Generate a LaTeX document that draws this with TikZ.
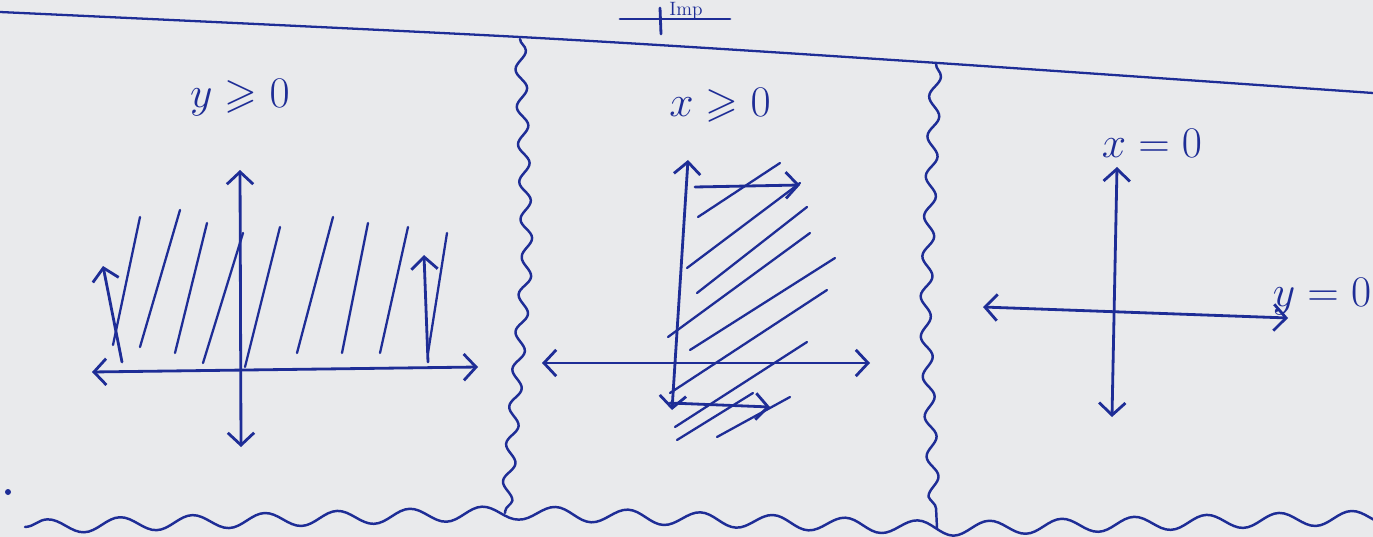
\documentclass[tikz,border=0pt]{standalone}
\usepackage{amssymb}
\usetikzlibrary{arrows.meta,decorations.pathmorphing}
\definecolor{ink}{RGB}{30,45,150}
\definecolor{paper}{RGB}{233,234,236}
\begin{document}
\begin{tikzpicture}[x=0.02cm, y=-0.02cm,
  pentip/.tip={Straight Barb[length=7pt,width=15pt]},
  pen/.style={draw=ink, line width=1.6pt, line cap=round, line join=round},
  axis/.style={pen, pentip-pentip},
  upto/.style={pen, -pentip},
  hatch/.style={draw=ink, line width=1.3pt, line cap=round},
  wavy/.style={pen, line width=1.4pt, decorate, decoration={snake, segment length=#1, amplitude=0.11cm}},
  lbl/.style={text=ink, font=\fontsize{24}{28}\selectfont, inner sep=0pt},
]
\fill[paper] (0,0) rectangle (1373,537);
\useasboundingbox (0,0) rectangle (1373,537);

% frame of the page
\draw[pen, line width=1.3pt] plot[smooth] coordinates {(0,12) (520,37) (908,61) (1373,93)};
\node[lbl, font=\fontsize{11}{13}\selectfont, anchor=base] (title) at (686,16) {Imp};
\draw[pen] (620,19) -- (730,19);
\draw[pen] (660,8) -- (661,34);
\draw[wavy=0.75cm] (520,39) -- (527,250) -- (505,513);
\draw[wavy=0.8cm] (936,64) -- (926,300) -- (937,528);
\draw[wavy=1.45cm, decoration={amplitude=0.14cm}] (25,527) -- (505,513) -- (937,529) -- (1420,516);
\fill[ink] (8,492) circle (3);

% y >= 0
\node[lbl] (ygeq) at (240,98) {$y\geqslant0$};
\coordinate (ay1) at (241,447); \coordinate (ay2) at (240,170);
\coordinate (ax1) at (92,372);  \coordinate (ax2) at (478,367);
\draw[axis] (ay1) -- (ay2);
\draw[axis] (ax1) -- (ax2);
\draw[hatch] (113,345) -- (140,217)
  (140,347) -- (180,210) (175,353) -- (207,223) (203,363) -- (243,233)
  (245,367) -- (280,227) (297,353) -- (333,217) (342,353) -- (368,223)
  (380,353) -- (408,227) (428,353) -- (447,233);
\draw[upto] (122,362) -- (103,266);
\draw[upto] (428,362) -- (424,255);

% x >= 0
\node[lbl] (xgeq) at (720,105) {$x\geqslant0$};
\coordinate (by1) at (672,410); \coordinate (by2) at (688,160);
\coordinate (bx1) at (542,363); \coordinate (bx2) at (870,363);
\draw[axis] (by1) -- (by2);
\draw[axis] (bx1) -- (bx2);
\draw[hatch] (698,217) -- (780,163) (687,268) -- (800,183) (697,293) -- (807,207)
  (668,337) -- (810,233) (690,350) -- (835,258) (670,393) -- (827,290)
  (675,427) -- (807,342) (677,440) -- (753,393) (717,437) -- (790,397);
\draw[upto] (695,187) -- (800,185);
\draw[upto] (670,403) -- (770,407);

% x = 0 and y = 0
\node[lbl] (xzero) at (1152,143) {$x=0$};
\node[lbl] (yzero) at (1322,297) {$y=0$};
\coordinate (cy1) at (1112,417); \coordinate (cy2) at (1117,167);
\coordinate (cx1) at (983,307);  \coordinate (cx2) at (1288,318);
\draw[axis] (cy1) -- (cy2);
\draw[axis] (cx1) -- (cx2);
\end{tikzpicture}
\end{document}
